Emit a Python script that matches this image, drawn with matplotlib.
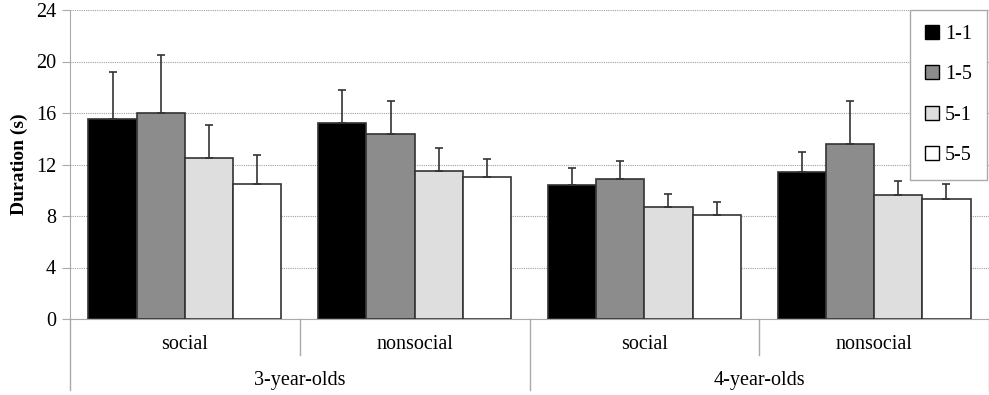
import numpy as np
import matplotlib.pyplot as plt
from matplotlib.lines import Line2D
import matplotlib.transforms as mtransforms

# ==============================
# DATA
# ==============================
conditions = ["social", "nonsocial", "social", "nonsocial"]
age_groups = ["3-year-olds", "4-year-olds"]
series = ["1-1", "1-5", "5-1", "5-5"]

mean_11 = [15.5, 15.2, 10.4, 11.4]
mean_15 = [16.0, 14.4, 10.9, 13.6]
mean_51 = [12.5, 11.5, 8.7, 9.6]
mean_55 = [10.5, 11.0, 8.1, 9.3]

err_11 = [3.7, 2.6, 1.3, 1.6]
err_15 = [4.5, 2.5, 1.4, 3.3]
err_51 = [2.6, 1.8, 1.0, 1.1]
err_55 = [2.2, 1.4, 0.95, 1.2]

means = [mean_11, mean_15, mean_51, mean_55]
errs = [err_11, err_15, err_51, err_55]
colors = ["#000000", "#8c8c8c", "#dedede", "#ffffff"]

# ==============================
# PLOT
# ==============================
plt.rcParams["font.family"] = ["Liberation Serif", "DejaVu Serif"]

fig = plt.figure(figsize=(9.89, 3.95), dpi=100)
ax = fig.add_axes([70 / 989, 1 - 319 / 395, 919 / 989, 309 / 395])

x = np.arange(len(conditions))
width = 0.21
for i, (vals, err, col) in enumerate(zip(means, errs, colors)):
    pos = x + (i - 1.5) * width
    ax.bar(pos, vals, width, color=col, edgecolor="#333333", linewidth=1.2,
           label=series[i], zorder=3)
    ax.errorbar(pos, vals, yerr=[np.zeros(len(err)), err], fmt="none",
                ecolor="#333333", elinewidth=1.2, capsize=3, capthick=1.2,
                zorder=4)

ax.set_xlim(-0.5, len(conditions) - 0.5)
ax.set_ylim(0, 24)
ax.set_yticks(range(0, 25, 4))
ax.tick_params(axis="y", labelsize=14.5, length=6, color="#aaaaaa", pad=4)
ax.tick_params(axis="x", bottom=False, labelbottom=False)
ax.yaxis.grid(True, linestyle=(0, (1, 1)), color="#a0a0a0", linewidth=0.8,
              zorder=0)
ax.set_axisbelow(True)

for side in ["top", "right"]:
    ax.spines[side].set_visible(False)
ax.spines["left"].set_color("#aaaaaa")
ax.spines["bottom"].set_color("#aaaaaa")

ax.set_ylabel("Duration (s)", fontsize=14, fontweight="bold", labelpad=6)

# two-level category axis
trans = mtransforms.blended_transform_factory(ax.transData, ax.transAxes)
for d in np.arange(-0.5, len(conditions), 1.0):
    low = -0.23 if d in (-0.5, 1.5, 3.5) else -0.117
    ax.add_line(Line2D([d, d], [0, low], transform=trans, color="#aaaaaa",
                       linewidth=1.0, clip_on=False))
for xi, lab in zip(x, conditions):
    ax.text(xi, -0.083, lab, transform=trans, ha="center", va="center",
            fontsize=14.5)
for k, lab in enumerate(age_groups):
    ax.text(2 * k + 0.5, -0.2, lab, transform=trans, ha="center",
            va="center", fontsize=14.5)

leg = ax.legend(loc="upper right", bbox_to_anchor=(0.998, 1.0),
                borderaxespad=0, fontsize=14.5, handlelength=0.7,
                handleheight=0.7, handletextpad=0.3, labelspacing=1.05,
                borderpad=0.75, fancybox=False, framealpha=1)
leg.get_frame().set_edgecolor("#aaaaaa")
leg.get_frame().set_linewidth(1.0)
for h in leg.legend_handles:
    h.set_edgecolor("#000000")
    h.set_linewidth(1.0)

plt.savefig("out.png", dpi=100)
